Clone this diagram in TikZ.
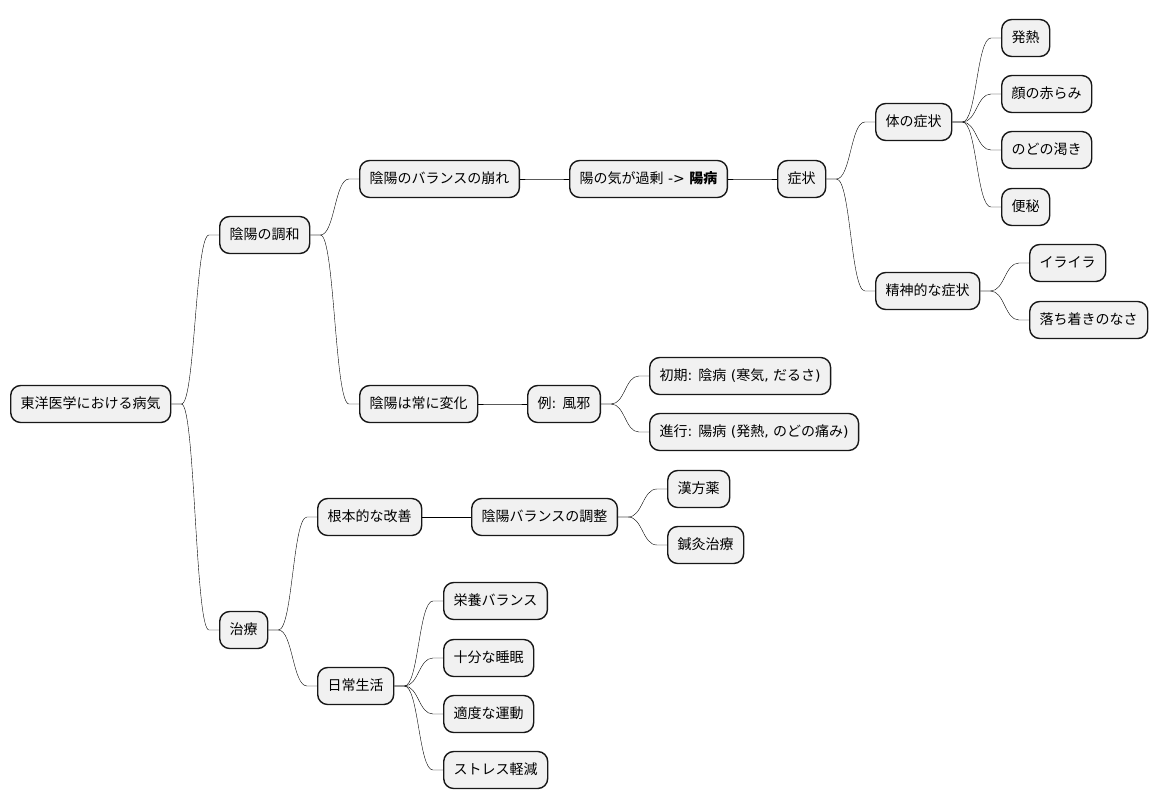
\documentclass[tikz,border=0pt]{standalone}
\usepackage{fontspec}
\setmainfont{Noto Sans CJK JP}
\newfontfamily\lat{DejaVu Sans}
\usetikzlibrary{calc}
\definecolor{boxfill}{HTML}{F1F1F1}
\definecolor{boxline}{HTML}{181818}
\tikzset{
  mm/.style={draw=boxline, fill=boxfill, line width=1.4pt, rounded corners=10pt,
    anchor=west, minimum height=37pt, inner xsep=10pt, inner ysep=0pt,
    text height=11pt, text depth=3pt, font=\fontsize{14pt}{16pt}\selectfont, text=black},
  conn/.style={draw=boxline, line width=1pt,
    to path={let \p1=(\tikztostart), \p2=(\tikztotarget) in
      (\p1) -- (\x1+10pt,\y1) .. controls ({(\x1+\x2)/2},\y1) and ({(\x1+\x2)/2},\y2) .. (\x2-10pt,\y2) -- (\p2)}}
}
\begin{document}
\begin{tikzpicture}[x=1pt,y=-1pt]
\fill[white] (0,0) rectangle (1158,809);
\useasboundingbox (0,0) rectangle (1158,809);
\node[mm] (root) at (10,404) {東洋医学における病気};
\node[mm] (n1) at (219,235) {陰陽の調和};
\node[mm] (n2) at (359,179) {陰陽のバランスの崩れ};
\node[mm] (n3) at (569,179) {陽の気が過剰{\lat{} -> }{\bfseries 陽病}};
\node[mm] (n4) at (777,179) {症状};
\node[mm] (n5) at (875,122) {体の症状};
\node[mm] (n6) at (1001,38) {発熱};
\node[mm] (n7) at (1001,94) {顔の赤らみ};
\node[mm] (n8) at (1001,150) {のどの渇き};
\node[mm] (n9) at (1001,207) {便秘};
\node[mm] (n10) at (875,291) {精神的な症状};
\node[mm] (n11) at (1029,263) {イライラ};
\node[mm] (n12) at (1029,320) {落ち着きのなさ};
\node[mm] (n13) at (359,404) {陰陽は常に変化};
\node[mm] (n14) at (527,404) {例{\lat: }風邪};
\node[mm] (n15) at (649,376) {初期{\lat: }陰病{\lat{} (}寒気{\lat, }だるさ{\lat )}};
\node[mm] (n16) at (649,432) {進行{\lat: }陽病{\lat{} (}発熱{\lat, }のどの痛み{\lat )}};
\node[mm] (n17) at (219,630) {治療};
\node[mm] (n18) at (317,517) {根本的な改善};
\node[mm] (n19) at (471,517) {陰陽バランスの調整};
\node[mm] (n20) at (667,489) {漢方薬};
\node[mm] (n21) at (667,545) {鍼灸治療};
\node[mm] (n22) at (317,686) {日常生活};
\node[mm] (n23) at (443,601) {栄養バランス};
\node[mm] (n24) at (443,658) {十分な睡眠};
\node[mm] (n25) at (443,714) {適度な運動};
\node[mm] (n26) at (443,770) {ストレス軽減};
\draw (root.east) to[conn] (n1.west);
\draw (root.east) to[conn] (n17.west);
\draw (n1.east) to[conn] (n2.west);
\draw (n1.east) to[conn] (n13.west);
\draw (n2.east) to[conn] (n3.west);
\draw (n3.east) to[conn] (n4.west);
\draw (n4.east) to[conn] (n5.west);
\draw (n4.east) to[conn] (n10.west);
\draw (n5.east) to[conn] (n6.west);
\draw (n5.east) to[conn] (n7.west);
\draw (n5.east) to[conn] (n8.west);
\draw (n5.east) to[conn] (n9.west);
\draw (n10.east) to[conn] (n11.west);
\draw (n10.east) to[conn] (n12.west);
\draw (n13.east) to[conn] (n14.west);
\draw (n14.east) to[conn] (n15.west);
\draw (n14.east) to[conn] (n16.west);
\draw (n17.east) to[conn] (n18.west);
\draw (n17.east) to[conn] (n22.west);
\draw (n18.east) to[conn] (n19.west);
\draw (n19.east) to[conn] (n20.west);
\draw (n19.east) to[conn] (n21.west);
\draw (n22.east) to[conn] (n23.west);
\draw (n22.east) to[conn] (n24.west);
\draw (n22.east) to[conn] (n25.west);
\draw (n22.east) to[conn] (n26.west);
\end{tikzpicture}
\end{document}
